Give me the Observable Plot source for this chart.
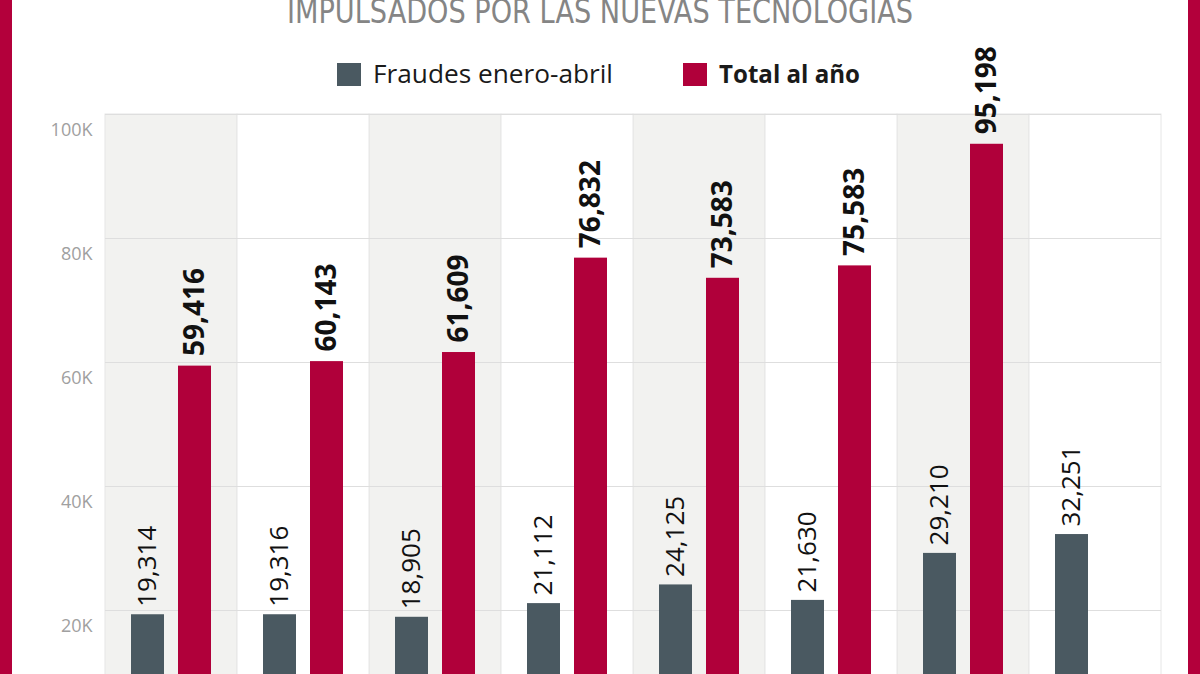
<!DOCTYPE html>
<html>
<head>
<meta charset="utf-8">
<script src="https://cdn.jsdelivr.net/npm/d3@7"></script>
<script src="https://cdn.jsdelivr.net/npm/@observablehq/plot@0.6"></script>
<style>
  html, body { margin: 0; padding: 0; width: 1200px; height: 674px; overflow: hidden; background: #fff; }
  #page { position: relative; width: 1200px; height: 674px; overflow: hidden; font-family: "Open Sans", "Noto Sans", sans-serif; }
  #header { position: absolute; left: 0; top: 0; }
  #chart { position: absolute; left: 0; top: 100px; }
  #chart svg { overflow: visible; }
  .edge { position: absolute; top: 0; width: 12px; height: 674px; background: #b3003b; }
</style>
</head>
<body>
<div id="page">
  <svg id="header" width="1200" height="100"></svg>
  <div id="chart"></div>
  <div class="edge" style="left:0"></div>
  <div class="edge" style="left:1188px"></div>
</div>
<script>
const title = "IMPULSADOS POR LAS NUEVAS TECNOLOGIAS";
const years = ["2016", "2017", "2018", "2019", "2020", "2021", "2022", "2023"];
const series = ["Fraudes enero-abril", "Total al año"];
const fraudes = [19314, 19316, 18905, 21112, 24125, 21630, 29210, 32251];
const totales = [59416, 60143, 61609, 76832, 73583, 75583, 95198, null];
const yTicks = [0, 20000, 40000, 60000, 80000, 100000];

const colors = ["#4a5961", "#b0003a"];

// header: title + legend
const header = d3.select("#header");
header.append("text")
  .attr("x", 600).attr("y", 23)
  .attr("text-anchor", "middle")
  .attr("font-family", "'Liberation Sans Narrow', 'DejaVu Sans Condensed', sans-serif")
  .attr("font-size", 33)
  .attr("fill", "#858585")
  .attr("textLength", 626)
  .attr("lengthAdjust", "spacingAndGlyphs")
  .text(title);

const legendItems = [
  {label: series[0], sx: 337, tx: 373, tw: 240, weight: 400, color: colors[0]},
  {label: series[1], sx: 683, tx: 719, tw: 141, weight: 700, color: colors[1]}
];
for (const it of legendItems) {
  header.append("rect").attr("x", it.sx).attr("y", 63).attr("width", 24).attr("height", 23).attr("fill", it.color);
  header.append("text")
    .attr("x", it.tx).attr("y", 83)
    .attr("font-family", "'Open Sans', 'Noto Sans', sans-serif")
    .attr("font-size", 25)
    .attr("font-weight", it.weight)
    .attr("fill", "#1a1a1a")
    .attr("textLength", it.tw)
    .attr("lengthAdjust", "spacingAndGlyphs")
    .text(it.label);
}

const rows = [];
years.forEach((y, i) => {
  rows.push({year: y, serie: series[0], value: fraudes[i]});
  if (totales[i] != null) rows.push({year: y, serie: series[1], value: totales[i]});
});
const fmt = d3.format(",");

const chart = Plot.plot({
  width: 1200,
  height: 674,
  marginLeft: 105,
  marginRight: 39,
  marginTop: 14,
  marginBottom: 40,
  style: {fontFamily: "'Open Sans', 'Noto Sans', sans-serif", background: "transparent", overflow: "visible"},
  fx: {domain: years, padding: 0, label: null},
  x: {domain: series, paddingInner: 0.298, paddingOuter: 0.553, axis: null},
  y: {domain: [0, 100000], axis: null},
  color: {domain: series, range: colors},
  marks: [
    Plot.barY(years.filter((d, i) => i % 2 === 0), {fx: d => d, y1: 0, y2: 100000, fill: "#f2f2f0", stroke: "#e6e6e6", strokeWidth: 1}),
    Plot.barY(years.filter((d, i) => i % 2 === 1), {fx: d => d, y1: 0, y2: 100000, fill: "#ffffff", stroke: "#e6e6e6", strokeWidth: 1}),
    Plot.gridY(yTicks, {stroke: "#dedede", strokeOpacity: 1}),
    Plot.axisY(yTicks, {tickSize: 0, tickPadding: 13, dy: 16, fontSize: 18, fill: "#a0a0a0", tickFormat: d => d === 0 ? "0" : d / 1000 + "K", label: null}),
    Plot.axisFx({anchor: "bottom", fontSize: 22, fill: "#333", label: null, tickSize: 0}),
    Plot.barY(rows, {fx: "year", x: "serie", y: "value", fill: "serie"}),
    Plot.text(rows.filter(d => d.serie === series[0]), {fx: "year", x: "serie", y: "value", text: d => fmt(d.value), rotate: -90, textAnchor: "start", lineAnchor: "middle", dy: -8, fontSize: 26, fontWeight: 400, fill: "#111"}),
    Plot.text(rows.filter(d => d.serie === series[1]), {fx: "year", x: "serie", y: "value", text: d => fmt(d.value), rotate: -90, textAnchor: "start", lineAnchor: "middle", dy: -10, fontSize: 28, fontWeight: 700, fill: "#111"})
  ]
});
document.getElementById("chart").appendChild(chart);
</script>
</body>
</html>
